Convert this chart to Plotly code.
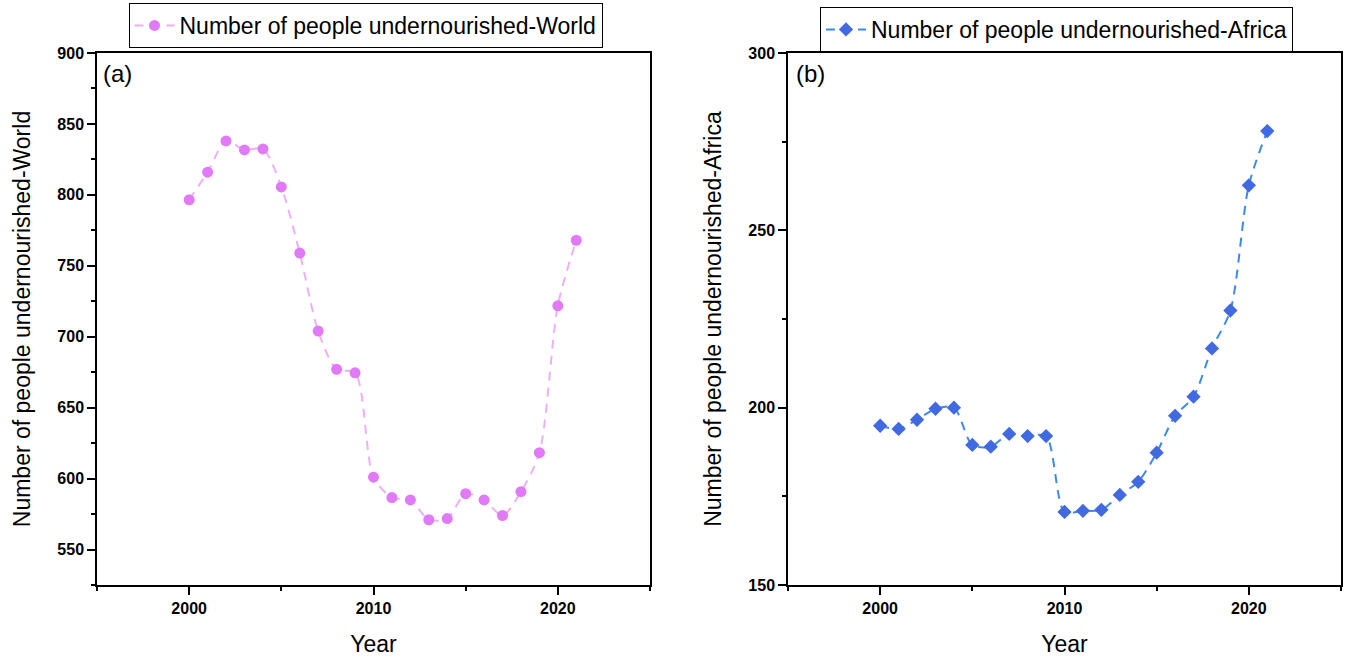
import plotly.graph_objects as go

years = list(range(2000, 2022))
world = [796.5, 816, 838, 831.7, 832.4, 805.6, 759, 704, 677, 674.6, 601,
         586.6, 585, 571, 571.8, 589.4, 585, 574, 590.8, 618.3, 721.8, 768]
africa = [194.9, 194.0, 196.6, 199.7, 200.0, 189.5, 189.0, 192.6, 192.0, 192.0, 170.6,
          170.9, 171.2, 175.4, 179.1, 187.3, 197.7, 203.1, 216.7, 227.4, 262.7, 278.0]

W, H = 1346, 661
FONT = "Liberation Sans, Arial, sans-serif"

fig = go.Figure()
fig.add_trace(go.Scatter(
    x=years, y=world, mode="lines+markers", name="Number of people undernourished-World",
    line=dict(color="#EDB0F7", width=2, dash="9px,7px", shape="spline", smoothing=0.8),
    marker=dict(color="#E07AF7", size=11, symbol="circle"),
    xaxis="x", yaxis="y", legend="legend", showlegend=True))
fig.add_trace(go.Scatter(
    x=years, y=africa, mode="lines+markers", name="Number of people undernourished-Africa",
    line=dict(color="#3D8AE6", width=2, dash="9px,7px", shape="spline", smoothing=0.8),
    marker=dict(color="#4169E1", size=11, symbol="diamond"),
    xaxis="x2", yaxis="y2", legend="legend2", showlegend=True))

TICKFONT = dict(family=FONT, size=16, color="black", weight="bold")
TITLEFONT = dict(family=FONT, size=23, color="black")

def xax(domain, anchor):
    return dict(domain=domain, anchor=anchor, range=[1995, 2025], tickvals=[2000, 2010, 2020],
                ticks="outside", ticklen=8, tickwidth=1.5, tickcolor="black",
                showline=True, linecolor="black", linewidth=1.5, mirror=True,
                showgrid=False, zeroline=False, automargin=False,
                tickfont=TICKFONT,
                title=dict(text="Year", font=TITLEFONT, standoff=20),
                minor=dict(dtick=5, tick0=1995, ticks="outside", ticklen=4, tickwidth=1.5, tickcolor="black"))

def yax(domain, anchor, rng, dtick, title):
    return dict(domain=domain, anchor=anchor, range=rng, dtick=dtick, tick0=0,
                ticks="outside", ticklen=8, tickwidth=1.5, tickcolor="black",
                showline=True, linecolor="black", linewidth=1.5, mirror=True,
                showgrid=False, zeroline=False, automargin=False,
                tickfont=TICKFONT,
                title=dict(text=title, font=TITLEFONT, standoff=20),
                minor=dict(dtick=dtick / 2, ticks="outside", ticklen=4, tickwidth=1.5, tickcolor="black"))

ydom = [(H - 585) / H, (H - 53) / H]
fig.update_layout(
    width=W, height=H, margin=dict(l=0, r=0, t=0, b=0, autoexpand=False),
    showlegend=True,
    plot_bgcolor="white", paper_bgcolor="white",
    font=dict(family=FONT, color="black"),
    xaxis=xax([97 / W, 650 / W], "y"),
    yaxis=yax(ydom, "x", [525, 900], 50, "Number of people undernourished-World"),
    xaxis2=xax([788 / W, 1341 / W], "y2"),
    yaxis2=yax(ydom, "x2", [150, 300], 50, "Number of people undernourished-Africa"),
    legend=dict(x=(124 + 607) / 2 / W, y=1 - 3 / H, xanchor="center", yanchor="top",
                bordercolor="black", borderwidth=1, bgcolor="white", visible=True,
                font=dict(family=FONT, size=23, color="black"), itemwidth=40,
                tracegroupgap=0),
    legend2=dict(x=(815 + 1298) / 2 / W, y=1 - 7 / H, xanchor="center", yanchor="top",
                 bordercolor="black", borderwidth=1, bgcolor="white", visible=True,
                 font=dict(family=FONT, size=23, color="black"), itemwidth=40,
                 tracegroupgap=0),
    annotations=[
        dict(text="(a)", x=101 / W, y=(H - 74) / H, xref="paper", yref="paper",
             xanchor="left", yanchor="middle", showarrow=False,
             font=dict(family=FONT, size=24, color="black")),
        dict(text="(b)", x=794 / W, y=(H - 74) / H, xref="paper", yref="paper",
             xanchor="left", yanchor="middle", showarrow=False,
             font=dict(family=FONT, size=24, color="black")),
    ],
)
fig.write_html("out.html", config={"displayModeBar": False},
               post_script="document.body.style.margin='0px';document.body.style.overflow='hidden';")
